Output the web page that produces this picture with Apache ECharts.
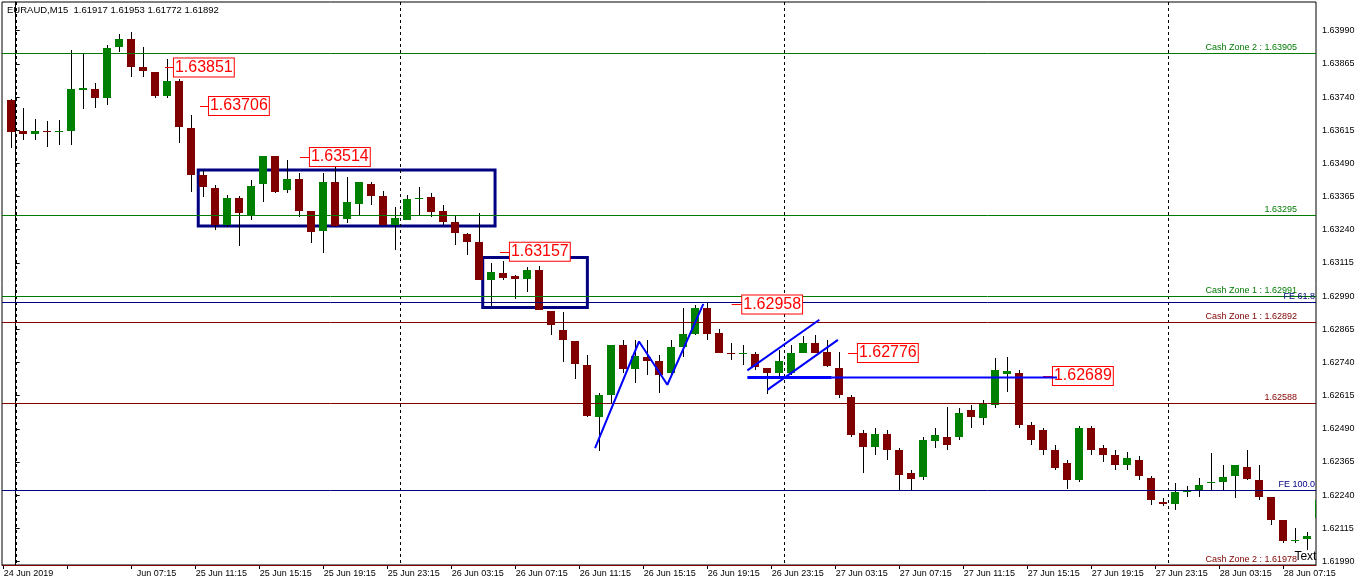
<!DOCTYPE html>
<html><head><meta charset="utf-8">
<script src="https://cdn.jsdelivr.net/npm/echarts@6.0.0/dist/echarts.min.js"></script>
<style>html,body{margin:0;padding:0;background:#fff}#c{width:1362px;height:585px}</style>
</head><body><div id="c"></div>
<script>
const HEADER = 'EURAUD,M15  1.61917 1.61953 1.61772 1.61892';

// Higher-timeframe candles, in time order (hours measured from 25 Jun 00:00)
const CANDLE_OPEN = [1.63729,1.63612,1.63600,1.63613,1.63607,1.63612,1.63767,1.63769,1.63738,1.63930,
1.63959,1.63854,1.63833,1.63742,1.63801,1.63625,1.63447,1.63399,1.63258,1.63361,
1.63296,1.63412,1.63518,1.63388,1.63432,1.63311,1.63236,1.63418,1.63281,1.63336,
1.63413,1.63367,1.63258,1.63277,1.63355,1.63365,1.63311,1.63269,1.63224,1.63192,
1.63049,1.63076,1.63066,1.63054,1.63089,1.62934,1.62863,1.62820,1.62731,1.62536,
1.62618,1.62807,1.62716,1.62762,1.62744,1.62702,1.62800,1.62848,1.62945,1.62850,
1.62777,1.62772,1.62772,1.62719,1.62702,1.62702,1.62777,1.62815,1.62781,1.62720,
1.62610,1.62475,1.62422,1.62471,1.62411,1.62324,1.62309,1.62445,1.62460,1.62460,
1.62562,1.62532,1.62581,1.62697,1.62701,1.62505,1.62486,1.62411,1.62362,1.62298,
1.62494,1.62418,1.62392,1.62354,1.62373,1.62306,1.62216,1.62208,1.62252,1.62254,
1.62286,1.62288,1.62314,1.62348,1.62298,1.62235,1.62145,1.62066,1.62075,1.62153];
const CANDLE_CLOSE = [1.63610,1.63600,1.63612,1.63607,1.63613,1.63770,1.63773,1.63738,1.63926,1.63959,
1.63854,1.63839,1.63742,1.63801,1.63628,1.63447,1.63400,1.63258,1.63361,1.63302,
1.63405,1.63518,1.63384,1.63432,1.63311,1.63233,1.63418,1.63256,1.63346,1.63418,
1.63367,1.63258,1.63284,1.63355,1.63361,1.63305,1.63271,1.63227,1.63195,1.63049,
1.63080,1.63060,1.63054,1.63089,1.62936,1.62880,1.62823,1.62734,1.62540,1.62618,
1.62807,1.62716,1.62765,1.62744,1.62693,1.62800,1.62848,1.62945,1.62847,1.62777,
1.62771,1.62777,1.62722,1.62702,1.62746,1.62777,1.62815,1.62777,1.62725,1.62618,
1.62467,1.62422,1.62471,1.62411,1.62317,1.62302,1.62449,1.62468,1.62430,1.62551,
1.62535,1.62588,1.62712,1.62709,1.62505,1.62449,1.62411,1.62343,1.62298,1.62494,
1.62411,1.62392,1.62354,1.62381,1.62313,1.62223,1.62208,1.62252,1.62256,1.62279,
1.62289,1.62310,1.62355,1.62302,1.62235,1.62145,1.62066,1.62072,1.62088,1.62223];
const CANDLE_LOW = [1.63548,1.63578,1.63578,1.63552,1.63560,1.63560,1.63695,1.63699,1.63710,1.63911,
1.63817,1.63817,1.63737,1.63735,1.63567,1.63384,1.63364,1.63239,1.63251,1.63179,
1.63277,1.63346,1.63379,1.63379,1.63288,1.63191,1.63153,1.63251,1.63266,1.63290,
1.63333,1.63258,1.63164,1.63277,1.63290,1.63288,1.63258,1.63183,1.63146,1.63049,
1.62951,1.63051,1.62980,1.63007,1.62936,1.62844,1.62740,1.62678,1.62536,1.62405,
1.62588,1.62701,1.62663,1.62693,1.62626,1.62693,1.62762,1.62844,1.62825,1.62777,
1.62750,1.62731,1.62712,1.62622,1.62682,1.62693,1.62775,1.62776,1.62724,1.62607,
1.62460,1.62324,1.62392,1.62373,1.62260,1.62260,1.62298,1.62418,1.62411,1.62449,
1.62494,1.62505,1.62569,1.62630,1.62494,1.62430,1.62392,1.62336,1.62264,1.62290,
1.62392,1.62366,1.62336,1.62336,1.62298,1.62204,1.62200,1.62185,1.62234,1.62235,
1.62260,1.62260,1.62230,1.62298,1.62223,1.62129,1.62060,1.62061,1.62034,1.62147];
const CANDLE_HIGH = [1.63733,1.63698,1.63657,1.63650,1.63654,1.63917,1.63907,1.63793,1.63936,1.63977,
1.63986,1.63930,1.63834,1.63883,1.63808,1.63673,1.63465,1.63409,1.63371,1.63367,
1.63428,1.63518,1.63518,1.63503,1.63454,1.63311,1.63454,1.63496,1.63440,1.63421,
1.63418,1.63386,1.63327,1.63371,1.63402,1.63379,1.63334,1.63290,1.63228,1.63304,
1.63115,1.63123,1.63068,1.63101,1.63104,1.62934,1.62932,1.62821,1.62769,1.62626,
1.62807,1.62825,1.62825,1.62825,1.62769,1.62825,1.62946,1.62957,1.62966,1.62867,
1.62815,1.62806,1.62780,1.62720,1.62787,1.62806,1.62838,1.62844,1.62825,1.62780,
1.62618,1.62486,1.62494,1.62486,1.62418,1.62336,1.62460,1.62494,1.62573,1.62569,
1.62581,1.62599,1.62757,1.62761,1.62712,1.62517,1.62494,1.62430,1.62373,1.62501,
1.62501,1.62430,1.62411,1.62403,1.62388,1.62313,1.62230,1.62287,1.62275,1.62306,
1.62400,1.62355,1.62355,1.62411,1.62355,1.62235,1.62145,1.62117,1.62103,1.62223];
const CANDLE_FIRST_HOUR = -0.3;   // first candle time (hours from 25 Jun 00:00)
const CANDLE_STEP_HOURS = 0.75;

// Time axis ticks / labels (hours from 25 Jun 00:00)
const X_TICK_HOURS = [-0.75,3.25,7.25,11.25,15.25,19.25,23.25,27.25,31.25,35.25,39.25,43.25,47.25,51.25,55.25,59.25,63.25,67.25,71.25,75.25,79.25];
const X_LABEL_HOURS = [-0.75,7.25,11.25,15.25,19.25,23.25,27.25,31.25,35.25,39.25,43.25,47.25,51.25,55.25,59.25,63.25,67.25,71.25,75.25,79.25];
const X_LABELS = ['24 Jun 2019','  Jun 07:15','25 Jun 11:15','25 Jun 15:15','25 Jun 19:15','25 Jun 23:15','26 Jun 03:15','26 Jun 07:15','26 Jun 11:15','26 Jun 15:15','26 Jun 19:15','26 Jun 23:15','27 Jun 03:15','27 Jun 07:15','27 Jun 11:15','27 Jun 15:15','27 Jun 19:15','27 Jun 23:15','28 Jun 03:15','28 Jun 07:15'];
const DAY_SEPARATORS = [0, 24, 48, 72];

// Price axis ticks
const Y_TICKS = [1.61990,1.62115,1.62240,1.62365,1.62490,1.62615,1.62740,1.62865,1.62990,1.63115,1.63240,1.63365,1.63490,1.63615,1.63740,1.63865,1.63990];

// Horizontal levels
const LEVEL_PRICES = [1.63905, 1.63295, 1.62991, 1.62966, 1.62892, 1.62588, 1.62258, 1.61978];
const LEVEL_TEXTS = ['Cash Zone 2 : 1.63905','1.63295','Cash Zone 1 : 1.62991','FE 61.8','Cash Zone 1 : 1.62892','1.62588','FE 100.0','Cash Zone 2 : 1.61978'];
const LEVEL_KINDS = ['green','green','green','navy','red','red','navy','red'];

// Price tags (short line start/end hour, price)
const TAG_PRICES = [1.63851, 1.63706, 1.63514, 1.63157, 1.62958, 1.62776, 1.62689];
const TAG_START = [9.33, 11.52, 17.77, 30.27, 44.75, 52.02, 64.21];
const TAG_END = [9.89, 12.08, 18.39, 30.89, 45.41, 52.64, 64.83];

// Rectangles: [startHour, endHour, topPrice, bottomPrice]
const BOX_1 = [11.41, 29.96, 1.63465, 1.63254];
const BOX_2 = [29.19, 35.73, 1.63135, 1.62947];

// Trendlines: [hour, price]
const ZIGZAG = [[36.21, 1.62417],[38.96, 1.62819],[40.73, 1.62656],[42.98, 1.62961]];
const CHANNEL_UPPER = [[45.73, 1.62710],[50.23, 1.62901]];
const CHANNEL_LOWER = [[46.98, 1.62637],[51.39, 1.62825]];
const FLAT_LINE_A = [[45.73, 1.62683],[51.0, 1.62683]];
const FLAT_LINE_B = [[51.0, 1.62683],[65.08, 1.62683]];

const NOTE_TEXT = 'Text';
const NOTE_POS = [80.61, 1.62010];

// ---- styling ----
const FONT = "'Liberation Sans', Arial, sans-serif";
const COLORS = {green: '#007a00', red: '#800000', navy: '#000080'};
const BULL = '#008000', BEAR = '#800000', TREND = '#0000ff', TAG = '#ff0000';
const BODY_W_HOURS = 0.52;

const candleData = CANDLE_OPEN.map((o, i) => [CANDLE_FIRST_HOUR + i * CANDLE_STEP_HOURS, o, CANDLE_CLOSE[i], CANDLE_LOW[i], CANDLE_HIGH[i]]);

function renderCandle(params, api) {
  const x = api.value(0), o = api.value(1), c = api.value(2), lo = api.value(3), hi = api.value(4);
  const pO = api.coord([x, o]), pC = api.coord([x, c]), pL = api.coord([x, lo]), pH = api.coord([x, hi]);
  const w = Math.round(api.size([BODY_W_HOURS, 0])[0]);
  const cx = pO[0];
  const top = Math.round(Math.min(pO[1], pC[1]));
  const bot = Math.round(Math.max(pO[1], pC[1]));
  const lx = Math.round(cx) + 0.5;
  return {
    type: 'group',
    children: [
      {type: 'line', shape: {x1: lx, y1: Math.round(pH[1]), x2: lx, y2: Math.round(pL[1])}, style: {stroke: '#000', lineWidth: 1}},
      {type: 'rect', shape: {x: Math.round(cx - w / 2), y: top, width: w, height: Math.max(bot - top, 1)}, style: {fill: c >= o ? BULL : BEAR}}
    ]
  };
}

function renderLevel(params, api) {
  const i = params.dataIndex;
  const cs = params.coordSys;
  const y = Math.round(api.coord([0, api.value(1)])[1]) + 0.5;
  const color = COLORS[LEVEL_KINDS[i]];
  const right = cs.x + cs.width - (LEVEL_KINDS[i] === 'navy' ? 1 : 19);
  return {
    type: 'group',
    children: [
      {type: 'line', shape: {x1: cs.x, y1: y, x2: cs.x + cs.width, y2: y}, style: {stroke: color, lineWidth: 1}},
      {type: 'text', style: {text: LEVEL_TEXTS[i], x: right, y: y - 1.5, align: 'right', verticalAlign: 'bottom',
        fill: color, font: '9px ' + FONT}}
    ]
  };
}

function renderDay(params, api) {
  const cs = params.coordSys;
  const x = Math.round(api.coord([api.value(0), 1.63])[0]) + 0.5;
  return {type: 'line', shape: {x1: x, y1: cs.y, x2: x, y2: cs.y + cs.height},
    style: {stroke: '#000', lineWidth: 1, lineDash: [3, 3]}};
}

function xLabel(v) {
  for (let i = 0; i < X_LABEL_HOURS.length; i++) if (Math.abs(X_LABEL_HOURS[i] - v) < 1e-6) return X_LABELS[i];
  return '';
}

const tagData = TAG_PRICES.map((p, i) => [
  {coord: [TAG_START[i], p], name: p.toFixed(5)},
  {coord: [TAG_END[i], p], name: p.toFixed(5)}
]);

const line = (data, width) => ({
  type: 'line', data: data, showSymbol: false, symbol: 'none', silent: true, z: 6,
  lineStyle: {color: TREND, width: width}, animation: false
});

const chart = echarts.init(document.getElementById('c'), null, {renderer: 'canvas'});
chart.setOption({
  animation: false,
  backgroundColor: '#fff',
  title: {text: HEADER, left: 7, top: 5, padding: 0, textStyle: {fontSize: 9.5, fontWeight: 'normal', color: '#000', fontFamily: FONT}},
  grid: {left: 2, right: 46, top: 2, bottom: 20, show: true, borderColor: '#000', borderWidth: 1, backgroundColor: '#fff'},
  xAxis: {
    type: 'value', min: -0.856, max: 81.27,
    axisLine: {show: true, lineStyle: {color: '#000', width: 1}},
    axisTick: {show: true, customValues: X_TICK_HOURS, length: 4, lineStyle: {color: '#000'}},
    axisLabel: {customValues: X_LABEL_HOURS, formatter: xLabel, align: 'left', margin: 4, color: '#000', fontSize: 9, fontFamily: FONT},
    splitLine: {show: false}
  },
  yAxis: {
    type: 'value', position: 'right', min: 1.61977, max: 1.64098, scale: true,
    axisLine: {show: true, lineStyle: {color: '#000', width: 1}},
    axisTick: {show: true, customValues: Y_TICKS, length: 4, lineStyle: {color: '#000'}},
    axisLabel: {customValues: Y_TICKS, formatter: v => v.toFixed(5), margin: 6, color: '#000', fontSize: 9, fontFamily: FONT},
    splitLine: {show: false}
  },
  series: [
    {type: 'custom', name: 'days', renderItem: renderDay, data: DAY_SEPARATORS.map(h => [h, 1.63]), encode: {x: 0, y: 1}, z: 1, silent: true, clip: false},
    {type: 'custom', name: 'candles', renderItem: renderCandle, data: candleData, encode: {x: 0, y: [1, 2, 3, 4]}, z: 2, silent: true, clip: true},
    {type: 'custom', name: 'levels', renderItem: renderLevel, data: LEVEL_PRICES.map(p => [0, p]), encode: {x: 0, y: 1}, z: 4, silent: true, clip: false},
    {type: 'line', name: 'boxes', data: [], silent: true, z: 5,
      markArea: {silent: true, animation: false, itemStyle: {color: 'rgba(0,0,0,0)', borderColor: COLORS.navy, borderWidth: 3},
        data: [BOX_1, BOX_2].map(b => [{coord: [b[0], b[2]]}, {coord: [b[1], b[3]]}])}},
    line(ZIGZAG, 2), line(CHANNEL_UPPER, 2), line(CHANNEL_LOWER, 2), line(FLAT_LINE_A, 3), line(FLAT_LINE_B, 2),
    {type: 'line', name: 'tags', data: [], silent: true, z: 8,
      markLine: {silent: true, precision: 5, symbol: ['none', 'none'], animation: false,
        lineStyle: {color: TAG, width: 1, type: 'solid'},
        label: {show: true, position: 'end', formatter: '{b}', color: TAG, fontSize: 16, fontFamily: FONT,
          borderColor: TAG, borderWidth: 1, backgroundColor: '#fff', padding: [2, 1, 0, 1], distance: 0},
        data: tagData}},
    {type: 'line', name: 'note', data: [], silent: true, z: 9,
      markPoint: {silent: true, animation: false, symbol: 'rect', symbolSize: 1, itemStyle: {color: 'rgba(0,0,0,0)'},
        label: {show: true, position: 'inside', formatter: NOTE_TEXT, color: '#000', fontSize: 12, fontFamily: FONT},
        data: [{coord: NOTE_POS}]}}
  ]
});
</script>
</body></html>
